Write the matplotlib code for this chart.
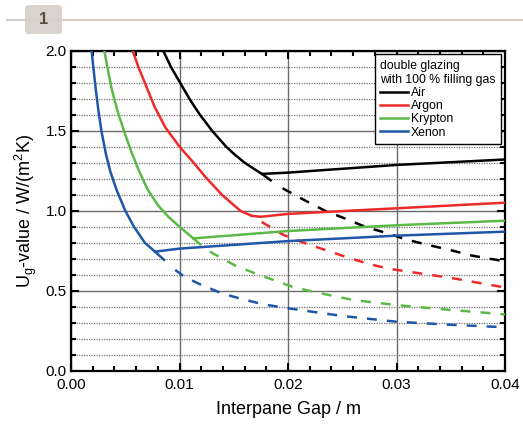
import numpy as np
import matplotlib
matplotlib.use("Agg")
import matplotlib.pyplot as plt
from matplotlib.patches import FancyBboxPatch
from matplotlib.lines import Line2D
from matplotlib.ticker import MultipleLocator

plt.rcParams['font.family'] = ['Liberation Sans', 'DejaVu Sans']
plt.rcParams['mathtext.fontset'] = 'custom'
plt.rcParams['mathtext.rm'] = 'Liberation Sans'
plt.rcParams['mathtext.it'] = 'Liberation Sans:italic'

gases = ['Air', 'Argon', 'Krypton', 'Xenon']
colors = ['#000000', '#ee2a2a', '#5cb947', '#1f56a8']

# descending branch (solid)
air_desc_x = [0.0085, 0.0092, 0.0100, 0.0110, 0.0119, 0.0130, 0.0143, 0.0151, 0.0160, 0.0169, 0.0176, 0.0184]
air_desc_y = [2.0, 1.90, 1.806, 1.69, 1.598, 1.50, 1.40, 1.35, 1.30, 1.26, 1.23, 1.19]
argon_desc_x = [0.00568, 0.0062, 0.0068, 0.0077, 0.0087, 0.0100, 0.0113, 0.0124, 0.0139, 0.0156, 0.01665]
argon_desc_y = [2.0, 1.90, 1.80, 1.65, 1.52, 1.40, 1.30, 1.21, 1.10, 1.0, 0.968]
krypton_desc_x = [0.00307, 0.0034, 0.00375, 0.0043, 0.00488, 0.0055, 0.0062, 0.0070, 0.0080, 0.0090, 0.0100, 0.01127, 0.0119]
krypton_desc_y = [2.0, 1.88, 1.76, 1.62, 1.50, 1.38, 1.26, 1.14, 1.035, 0.96, 0.90, 0.827, 0.79]
xenon_desc_x = [0.0019, 0.0021, 0.0023, 0.0025, 0.0028, 0.0032, 0.0036, 0.0042, 0.0050, 0.0058, 0.0068, 0.00774, 0.00857]
xenon_desc_y = [2.0, 1.87, 1.75, 1.64, 1.50, 1.36, 1.25, 1.13, 1.0, 0.90, 0.80, 0.744, 0.693]

# rising branch (solid)
air_rise_x = [0.0176, 0.02, 0.03, 0.04]
air_rise_y = [1.23, 1.238, 1.286, 1.32]
argon_rise_x = [0.01665, 0.0175, 0.02, 0.03, 0.04]
argon_rise_y = [0.968, 0.962, 0.98, 1.015, 1.05]
krypton_rise_x = [0.01127, 0.02, 0.03, 0.04]
krypton_rise_y = [0.827, 0.873, 0.909, 0.9375]
xenon_rise_x = [0.00774, 0.01, 0.02, 0.03, 0.04]
xenon_rise_y = [0.744, 0.763, 0.81, 0.844, 0.869]

# continuation (dashed)
air_dash_x = [0.0195, 0.0214, 0.0234, 0.0253, 0.0271, 0.0291, 0.0309, 0.0329, 0.0349, 0.0369, 0.0386, 0.0398]
air_dash_y = [1.14, 1.07, 1.0, 0.95, 0.90, 0.86, 0.82, 0.786, 0.755, 0.72, 0.70, 0.686]
argon_dash_x = [0.01757, 0.0196, 0.0216, 0.0254, 0.0273, 0.0291, 0.03, 0.035, 0.04]
argon_dash_y = [0.93, 0.848, 0.796, 0.71, 0.67, 0.64, 0.63, 0.58, 0.52]
krypton_dash_x = [0.0128, 0.0152, 0.0171, 0.02046, 0.0223, 0.0242, 0.026, 0.03, 0.035, 0.04]
krypton_dash_y = [0.744, 0.655, 0.605, 0.523, 0.494, 0.467, 0.442, 0.41, 0.38, 0.352]
xenon_dash_x = [0.0096, 0.0105, 0.0119, 0.0139, 0.0157, 0.0177, 0.02, 0.025, 0.03, 0.035, 0.0395]
xenon_dash_y = [0.63, 0.585, 0.54, 0.483, 0.449, 0.415, 0.39, 0.342, 0.306, 0.287, 0.273]

x_ticks = [0, 0.01, 0.02, 0.03, 0.04]
x_tick_labels = ['0.00', '0.01', '0.02', '0.03', '0.04']
y_ticks = [0, 0.5, 1.0, 1.5, 2.0]
y_tick_labels = ['0.0', '0.5', '1.0', '1.5', '2.0']

desc = [(air_desc_x, air_desc_y), (argon_desc_x, argon_desc_y),
        (krypton_desc_x, krypton_desc_y), (xenon_desc_x, xenon_desc_y)]
rise = [(air_rise_x, air_rise_y), (argon_rise_x, argon_rise_y),
        (krypton_rise_x, krypton_rise_y), (xenon_rise_x, xenon_rise_y)]
dash = [(air_dash_x, air_dash_y), (argon_dash_x, argon_dash_y),
        (krypton_dash_x, krypton_dash_y), (xenon_dash_x, xenon_dash_y)]

fig = plt.figure(figsize=(5.23, 4.25), dpi=100)
ax = fig.add_axes([71/523, (425-370.7)/425, 434/523, 320/425])

lw = 1.8
for i in range(4):
    ax.plot(desc[i][0], desc[i][1], color=colors[i], lw=lw, solid_joinstyle='round', zorder=3)
    ax.plot(rise[i][0], rise[i][1], color=colors[i], lw=lw, label=gases[i], zorder=3)
    ax.plot(dash[i][0], dash[i][1], color=colors[i], lw=lw, ls=(0, (4, 4)), zorder=3)

ax.set_xlim(0, 0.04)
ax.set_ylim(0, 2.0)
ax.set_xticks(x_ticks)
ax.set_xticklabels(x_tick_labels)
ax.set_yticks(y_ticks)
ax.set_yticklabels(y_tick_labels)
ax.xaxis.set_minor_locator(MultipleLocator(0.002))
ax.yaxis.set_minor_locator(MultipleLocator(0.1))

ax.grid(which='major', color='#6b6b6b', lw=1.0, ls='-', zorder=1)
ax.grid(which='minor', axis='y', color='#777777', lw=0.9, ls=(0, (1, 1)), zorder=1)

ax.tick_params(which='both', direction='in', top=True, right=True, labelsize=11, width=1.5)
ax.tick_params(which='major', length=6)
ax.tick_params(axis='x', which='major', pad=5)
ax.tick_params(axis='y', which='major', pad=3)
ax.tick_params(which='minor', length=3.5)
for s in ax.spines.values():
    s.set_linewidth(1.6)

ax.set_xlabel('Interpane Gap / m', fontsize=13, labelpad=7)
ax.set_ylabel(r'U$_\mathrm{g}$-value / W/(m$^2$K)', fontsize=13, labelpad=5)

leg = ax.legend(loc='upper right', title='double glazing\nwith 100 % filling gas',
                fontsize=8.8, title_fontsize=8.8, alignment='left', fancybox=False,
                edgecolor='black', framealpha=1, handlelength=2.3, handletextpad=0.2,
                labelspacing=0.1, borderaxespad=0.3, borderpad=0.45)
leg.get_frame().set_linewidth(1.0)
leg.set_zorder(5)

# header badge
fig.add_artist(Line2D([7/523, 522/523], [1 - 20/425, 1 - 20/425], color='#d6cfc8', lw=1.5))
badge = FancyBboxPatch((25/523, 1 - 34/425), 37/523, 29/425,
                       boxstyle='round,pad=0,rounding_size=0.008',
                       transform=fig.transFigure, facecolor='#d9d3cd', edgecolor='none')
fig.add_artist(badge)
fig.text(43.5/523, 1 - 20/425, '1', ha='center', va='center', fontsize=12,
         fontweight='bold', color='#5a4a3c')

fig.savefig('out.png', dpi=100)
